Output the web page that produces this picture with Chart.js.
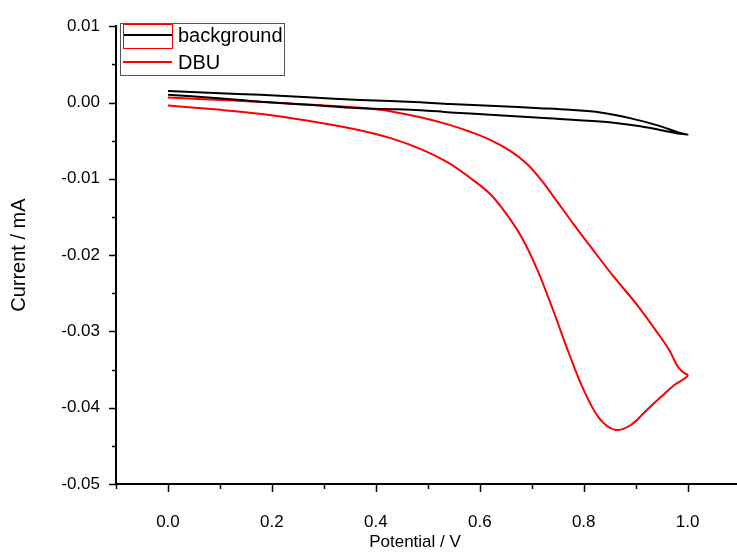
<!DOCTYPE html>
<html>
<head>
<meta charset="utf-8">
<script src="https://cdn.jsdelivr.net/npm/chart.js@4.4.1/dist/chart.umd.min.js"></script>
<style>
  html, body { margin: 0; padding: 0; background: #fff; }
  #wrap { width: 737px; height: 553px; }
</style>
</head>
<body>
<div id="wrap"><canvas id="myChart" width="737" height="553"></canvas></div>
<script>
// background scan: forward branch 0 -> 1.0 V, then back to 0
const bgPotential = [0.0, 0.09, 0.178, 0.27, 0.37, 0.486, 0.543, 0.63, 0.716, 0.774, 0.832, 0.889, 0.947, 0.986, 1.0,
                     0.986, 0.947, 0.909, 0.832, 0.716, 0.62, 0.543, 0.486, 0.42, 0.352, 0.27, 0.178, 0.09, 0.0];
const bgCurrent = [0.0015, 0.00125, 0.0010, 0.00068, 0.00034, 0.00004, -0.0002, -0.00045, -0.00074, -0.00096, -0.0013, -0.00205, -0.0031, -0.0040, -0.0042,
                   -0.0041, -0.0036, -0.0031, -0.0025, -0.0020, -0.0016, -0.0013, -0.0010, -0.00085, -0.0007, -0.0003, 0.0001, 0.0006, 0.0010];

// DBU scan: lower branch 0 -> 1.0 V, upper branch back to 0
const dbuPotential = [0.0, 0.09, 0.18, 0.27, 0.36, 0.43, 0.49, 0.54, 0.58, 0.62, 0.65, 0.68, 0.71, 0.74, 0.77, 0.80, 0.83, 0.86, 0.89, 0.92, 0.95, 0.975, 1.0,
                      0.99, 0.98, 0.965, 0.94, 0.90, 0.855, 0.81, 0.78, 0.75, 0.72, 0.69, 0.66, 0.62, 0.58, 0.54, 0.49, 0.44, 0.40, 0.35, 0.25, 0.17, 0.08, 0.0];
const dbuCurrent = [-0.0004, -0.0009, -0.0015, -0.0024, -0.0035, -0.0047, -0.0062, -0.0079, -0.0098, -0.0120, -0.0145, -0.0176, -0.0218, -0.0270, -0.0326, -0.0377, -0.0414, -0.0429, -0.0423, -0.0404, -0.0385, -0.0370, -0.0358,
                    -0.0353, -0.0345, -0.0325, -0.0300, -0.0263, -0.0226, -0.0186, -0.0159, -0.0131, -0.0103, -0.0080, -0.0064, -0.0049, -0.0038, -0.0029, -0.0020, -0.0013, -0.0009, -0.0006, -0.0002, 0.0001, 0.0004, 0.00065];

const xTicks = [-0.1, 0.0, 0.1, 0.2, 0.3, 0.4, 0.5, 0.6, 0.7, 0.8, 0.9, 1.0];
const yTicks = [-0.05, -0.045, -0.04, -0.035, -0.03, -0.025, -0.02, -0.015, -0.01, -0.005, 0.0, 0.005, 0.01];

const fontFamily = 'Arial, "Liberation Sans", sans-serif';

function toPoints(xs, ys) {
    return xs.map((x, i) => ({ x: x, y: ys[i] }));
}

// major tick = labelled one
function isMajor(v, step) {
    const r = Math.round(v / step);
    return Math.abs(v - r * step) < 1e-9;
}

// tick marks, x title and legend box (Origin style)
const originPlugin = {
    id: 'originPlugin',
    afterDraw(chart) {
        const ctx = chart.ctx;
        const xs = chart.scales.x;
        const ys = chart.scales.y;
        const area = chart.chartArea;
        ctx.save();
        ctx.strokeStyle = '#000';
        ctx.lineWidth = 1.5;
        xTicks.forEach(v => {
            const px = Math.round(xs.getPixelForValue(v)) + 0.5;
            const len = isMajor(v, 0.2) ? 8 : 5;
            ctx.beginPath();
            ctx.moveTo(px, area.bottom);
            ctx.lineTo(px, area.bottom + len);
            ctx.stroke();
        });
        yTicks.forEach(v => {
            const py = Math.round(ys.getPixelForValue(v)) + 0.5;
            const len = isMajor(v, 0.01) ? 7 : 4;
            ctx.beginPath();
            ctx.moveTo(area.left, py);
            ctx.lineTo(area.left - len, py);
            ctx.stroke();
        });

        // x axis title (sits a bit left of the plot centre in the original)
        ctx.fillStyle = '#000';
        ctx.font = '17px ' + fontFamily;
        ctx.textAlign = 'center';
        ctx.textBaseline = 'middle';
        ctx.fillText('Potential / V', 415, 542);

        // legend
        const lx = 120, ly = 23, lw = 164, lh = 52;
        ctx.lineWidth = 1;
        ctx.strokeStyle = '#555';
        ctx.strokeRect(lx + 0.5, ly + 0.5, lw, lh);
        ctx.font = '20px ' + fontFamily;
        ctx.textAlign = 'left';
        const rows = [35, 62];
        chart.data.datasets.forEach((ds, i) => {
            const y = rows[i];
            ctx.strokeStyle = ds.borderColor;
            ctx.lineWidth = 2;
            ctx.beginPath();
            ctx.moveTo(123, y);
            ctx.lineTo(172, y);
            ctx.stroke();
            ctx.fillText(ds.label, 178, y + 1);
        });
        // selection box round first symbol
        ctx.strokeStyle = '#ff0000';
        ctx.lineWidth = 1;
        ctx.strokeRect(123.5, 24.5, 49, 24);
        ctx.restore();
    }
};

const ctx = document.getElementById('myChart').getContext('2d');
const myChart = new Chart(ctx, {
    type: 'scatter',
    data: {
        datasets: [
            {
                label: 'background',
                data: toPoints(bgPotential, bgCurrent),
                borderColor: '#000000',
                backgroundColor: '#000000',
                borderWidth: 2,
                showLine: true,
                pointRadius: 0,
                tension: 0.35,
                fill: false
            },
            {
                label: 'DBU',
                data: toPoints(dbuPotential, dbuCurrent),
                borderColor: '#ff0000',
                backgroundColor: '#ff0000',
                borderWidth: 2,
                showLine: true,
                pointRadius: 0,
                tension: 0.35,
                fill: false
            }
        ]
    },
    options: {
        responsive: false,
        animation: false,
        devicePixelRatio: 1,
        layout: { padding: { top: 23, right: 0, left: 0, bottom: 0 } },
        plugins: {
            legend: { display: false },
            tooltip: { enabled: false }
        },
        scales: {
            x: {
                type: 'linear',
                min: -0.1,
                max: 1.095,
                afterBuildTicks: s => { s.ticks = xTicks.map(v => ({ value: v })); },
                afterFit: s => { s.height = 69; },
                grid: { display: false, drawTicks: false },
                border: { display: true, color: '#000', width: 2 },
                ticks: {
                    padding: 28,
                    color: '#000',
                    font: { family: fontFamily, size: 17 },
                    maxRotation: 0,
                    autoSkip: false,
                    callback: v => isMajor(v, 0.2) ? v.toFixed(1) : ''
                },
                title: { display: false }
            },
            y: {
                type: 'linear',
                min: -0.05,
                max: 0.01,
                afterBuildTicks: s => { s.ticks = yTicks.map(v => ({ value: v })); },
                afterFit: s => { s.width = 116; },
                grid: { display: false, drawTicks: false },
                border: { display: true, color: '#000', width: 2 },
                ticks: {
                    padding: 16,
                    color: '#000',
                    font: { family: fontFamily, size: 17 },
                    autoSkip: false,
                    callback: v => isMajor(v, 0.01) ? v.toFixed(2) : ''
                },
                title: {
                    display: true,
                    text: 'Current / mA',
                    color: '#000',
                    font: { family: fontFamily, size: 20 },
                    padding: { top: 7, bottom: 0 }
                }
            }
        }
    },
    plugins: [originPlugin]
});
</script>
</body>
</html>
